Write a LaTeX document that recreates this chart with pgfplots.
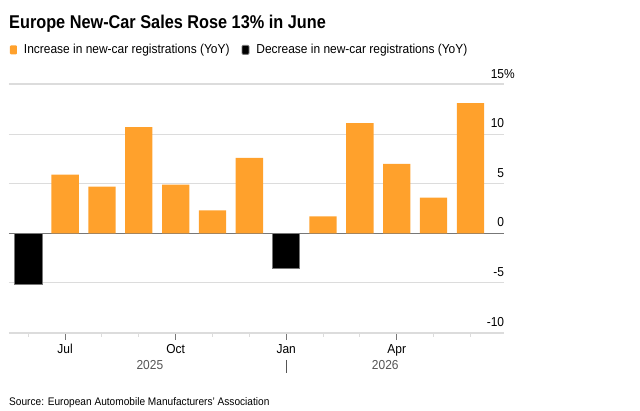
\documentclass[border=0pt]{standalone}
\usepackage{fontspec}
\setmainfont{Liberation Sans}[FakeStretch=0.92]
\newfontfamily\titlefont{Liberation Sans}[FakeStretch=0.88]
\usepackage{pgfplots}
\pgfplotsset{compat=1.18}
\definecolor{barorange}{HTML}{FFA12C}
\definecolor{gridgray}{HTML}{DCDCDC}
\definecolor{zerogray}{HTML}{777777}
\definecolor{yeargray}{HTML}{555555}
\begin{document}
\begin{tikzpicture}
\path[use as bounding box] (0pt,0pt) rectangle (640pt,411pt);
\node[anchor=base west, inner sep=0pt, font=\titlefont\bfseries\fontsize{18.5}{20}\selectfont] at (9pt,382.7pt) {Europe New-Car Sales Rose 13\% in June};
\node[anchor=base west, inner sep=0pt, font=\fontsize{11}{13}\selectfont] at (9pt,5pt) {Source: European Automobile Manufacturers’ Association};
\begin{axis}[
  at={(28.3pt,177.7pt)}, anchor=origin,
  scale only axis, width=495.3pt, height=248.2pt,
  xmin=-0.524, xmax=12.92, ymin=-10, ymax=15,
  axis x line*=bottom, axis y line*=right,
  x axis line style={-, gridgray, line width=2pt},
  y axis line style={draw=none},
  xtick={1,4,7,10}, xticklabels={Jul,Oct,Jan,Apr},
  minor xtick={0,2,3,5,6,8,9,11,12},
  tick align=outside,
  major tick length=7pt, minor tick length=4pt,
  xtick style={draw=zerogray, line width=1pt},
  minor x tick style={draw=gridgray, line width=1pt},
  xticklabel style={anchor=base, yshift=-13.6pt, inner sep=0pt, font=\fontsize{13}{14}\selectfont},
  ytick={-10,-5,5,10,15}, yticklabels={-10,-5,5,10,15\rlap{\%}},
  extra y ticks={0}, extra y tick labels={0},
  extra y tick style={grid style={zerogray, line width=1pt}},
  ytick style={draw=none},
  ymajorgrids, grid style={gridgray, line width=1pt},
  yticklabel style={anchor=south east, inner sep=0pt, xshift=-7pt, yshift=6pt, font=\fontsize{13}{14}\selectfont},
  /pgf/number format/assume math mode=true,
  ybar, bar width=27.3pt, bar shift=0pt,
  legend columns=2,
  legend style={at={(0.002,1.139)}, anchor=west, draw=none, fill=none, inner sep=0pt, outer sep=0pt,
    font=\fontsize{13}{14}\selectfont,
    /tikz/every odd column/.append style={column sep=5pt},
    /tikz/every even column/.append style={column sep=10pt}},
  legend image code/.code={\fill[#1, rounded corners=1pt] (0pt,-4.5pt) rectangle (7pt,4.5pt);},
  clip=false,
]
\draw[gridgray, line width=2pt] (axis cs:-0.524,15) -- (axis cs:12.92,15);
\addplot[fill=barorange, draw=none] coordinates {(1,5.9) (2,4.7) (3,10.7) (4,4.9) (5,2.3) (6,7.6) (8,1.7) (9,11.1) (10,7.0) (11,3.6) (12,13.1)};
\addlegendentry{Increase in new-car registrations (YoY)}
\addplot[fill=black, draw=zerogray, line width=0.8pt] coordinates {(0,-5.1) (7,-3.5)};
\addlegendentry{Decrease in new-car registrations (YoY)}
\node[anchor=base, inner sep=0pt, text=yeargray, font=\fontsize{13}{14}\selectfont] at (axis cs:3.3,-10) [yshift=-37.3pt] {2025};
\node[anchor=base, inner sep=0pt, text=yeargray, font=\fontsize{13}{14}\selectfont] at (axis cs:9.69,-10) [yshift=-37.3pt] {2026};
\draw[yeargray, line width=1pt] ([yshift=-27.3pt]axis cs:7,-10) -- ([yshift=-40pt]axis cs:7,-10);
\end{axis}
\end{tikzpicture}
\end{document}
